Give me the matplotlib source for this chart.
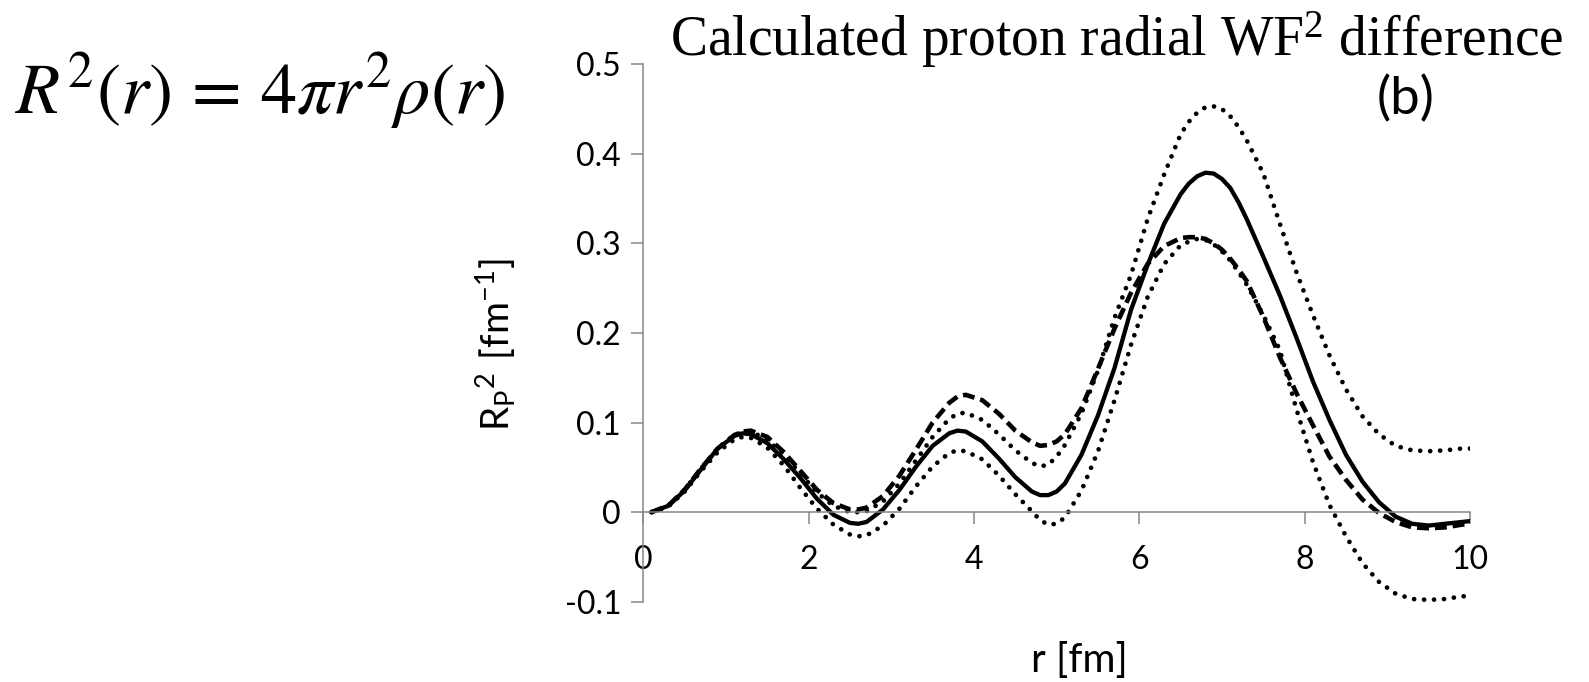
import numpy as np
import matplotlib
matplotlib.use("Agg")
import matplotlib.pyplot as plt

# ---- data ----
r_fm = [0.1, 0.3, 0.5, 0.7, 0.9, 1.1, 1.2, 1.3, 1.5, 1.7, 1.9,
        2.1, 2.3, 2.5, 2.6, 2.7, 2.9, 3.1, 3.3, 3.5, 3.7, 3.8, 3.9,
        4.1, 4.3, 4.5, 4.7, 4.8, 4.9, 5.0, 5.1, 5.3, 5.5, 5.7, 5.9,
        6.1, 6.3, 6.5, 6.6, 6.7, 6.8, 6.9, 7.0, 7.1, 7.2, 7.3, 7.5, 7.7, 7.9,
        8.1, 8.3, 8.5, 8.7, 8.9, 9.1, 9.3, 9.5, 9.7, 9.9, 10.0]

central = [0.000, 0.007, 0.024, 0.048, 0.071, 0.085, 0.088, 0.087, 0.077, 0.059, 0.038,
           0.015, -0.003, -0.012, -0.013, -0.011, 0.003, 0.025, 0.051, 0.074, 0.088, 0.091, 0.090,
           0.079, 0.060, 0.039, 0.023, 0.019, 0.019, 0.023, 0.032, 0.064, 0.108, 0.161, 0.226,
           0.276, 0.322, 0.355, 0.367, 0.375, 0.379, 0.378, 0.372, 0.362, 0.346, 0.327, 0.285, 0.242, 0.195,
           0.146, 0.103, 0.064, 0.034, 0.011, -0.005, -0.013, -0.015, -0.013, -0.011, -0.010]

dashed = [0.000, 0.007, 0.025, 0.049, 0.071, 0.086, 0.090, 0.091, 0.084, 0.067, 0.046,
          0.025, 0.010, 0.003, 0.003, 0.005, 0.018, 0.041, 0.070, 0.100, 0.122, 0.129, 0.131,
          0.125, 0.110, 0.091, 0.078, 0.074, 0.075, 0.079, 0.087, 0.116, 0.160, 0.205, 0.245,
          0.277, 0.297, 0.306, 0.307, 0.307, 0.305, 0.300, 0.293, 0.283, 0.271, 0.258, 0.218, 0.173, 0.133,
          0.097, 0.062, 0.036, 0.014, -0.001, -0.011, -0.017, -0.018, -0.017, -0.014, -0.013]

upper = [0.000, 0.007, 0.025, 0.049, 0.071, 0.086, 0.089, 0.090, 0.081, 0.064, 0.043,
         0.022, 0.007, 0.000, 0.000, 0.001, 0.012, 0.032, 0.058, 0.084, 0.104, 0.110, 0.111,
         0.103, 0.087, 0.069, 0.055, 0.051, 0.053, 0.062, 0.075, 0.110, 0.158, 0.217, 0.265,
         0.327, 0.377, 0.422, 0.436, 0.446, 0.452, 0.453, 0.450, 0.442, 0.430, 0.415, 0.378, 0.322, 0.268,
         0.220, 0.175, 0.137, 0.107, 0.087, 0.074, 0.069, 0.068, 0.069, 0.071, 0.071]

lower = [0.000, 0.006, 0.023, 0.046, 0.067, 0.081, 0.084, 0.083, 0.072, 0.052, 0.027,
         0.004, -0.014, -0.025, -0.027, -0.026, -0.015, 0.004, 0.029, 0.051, 0.066, 0.069, 0.068,
         0.059, 0.041, 0.020, 0.001, -0.009, -0.014, -0.013, -0.006, 0.024, 0.068, 0.125, 0.187,
         0.240, 0.277, 0.298, 0.302, 0.305, 0.304, 0.299, 0.291, 0.281, 0.268, 0.254, 0.220, 0.181, 0.115,
         0.056, 0.008, -0.027, -0.057, -0.078, -0.091, -0.097, -0.098, -0.097, -0.094, -0.094]

x_ticks = [0, 2, 4, 6, 8, 10]
y_ticks = [-0.1, 0.0, 0.1, 0.2, 0.3, 0.4, 0.5]
y_ticklabels = ["-0.1", "0", "0.1", "0.2", "0.3", "0.4", "0.5"]

# ---- figure ----
W, H = 1589, 682
fig = plt.figure(figsize=(W / 100, H / 100), dpi=100)
ax = fig.add_axes([643.3 / W, 1 - 601.7 / H, (1470 - 643.3) / W, (601.7 - 64.3) / H])

axis_col = "#868686"
sans = "Lato"

dot_style = (0, (0.01, 2.1))
ax.plot(r_fm, upper, color="black", lw=3.4, linestyle=dot_style,
        dash_capstyle="round", solid_joinstyle="round")
ax.plot(r_fm, lower, color="black", lw=3.4, linestyle=dot_style,
        dash_capstyle="round", solid_joinstyle="round")
ax.plot(r_fm, dashed, color="black", lw=3.3, linestyle=(0, (2.6, 1.3)),
        dash_capstyle="butt", dash_joinstyle="round")
ax.plot(r_fm, central, color="black", lw=3.1, solid_capstyle="round",
        solid_joinstyle="round")

ax.set_xlim(0, 10)
ax.set_ylim(-0.1, 0.5)

for s in ["top", "right"]:
    ax.spines[s].set_visible(False)
ax.spines["bottom"].set_position(("data", 0))
ax.spines["bottom"].set_color(axis_col)
ax.spines["left"].set_color(axis_col)
ax.spines["bottom"].set_linewidth(1.1)
ax.spines["left"].set_linewidth(1.1)

ax.set_xticks(x_ticks)
ax.set_xticklabels([str(v) for v in x_ticks], fontfamily=sans, fontsize=23)
ax.set_yticks(y_ticks)
ax.set_yticklabels(y_ticklabels, fontfamily=sans, fontsize=23)
ax.tick_params(axis="x", direction="out", length=8.5, width=1.1, color=axis_col, pad=15)
ax.tick_params(axis="y", direction="out", length=8.5, width=1.1, color=axis_col, pad=7.5)

# axis labels
fig.text(1079 / W, 1 - 661 / H, "r [fm]", fontfamily=sans, fontsize=29,
         ha="center", va="center")
fig.text(496 / W, 1 - 345 / H, r"$\mathregular{R_P{}^{2}\ [fm^{-1}]}$", fontfamily=sans,
         fontsize=28, rotation=90, ha="center", va="center")

# panel tag
fig.text(1406 / W, 1 - 99 / H, "(b)", fontfamily=sans, fontsize=38, ha="center", va="center")

# title
fig.text(1117 / W, 1 - 40 / H, r"Calculated proton radial WF$\mathregular{^2}$ difference",
         fontfamily="Liberation Serif", fontsize=40, ha="center", va="center")

# formula
fig.text(15 / W, 1 - 113 / H, r"$R^2(r)\,=\,4\pi r^2\rho(r)$", math_fontfamily="stix",
         fontsize=52, ha="left", va="baseline")

fig.savefig("out.png", dpi=100)
